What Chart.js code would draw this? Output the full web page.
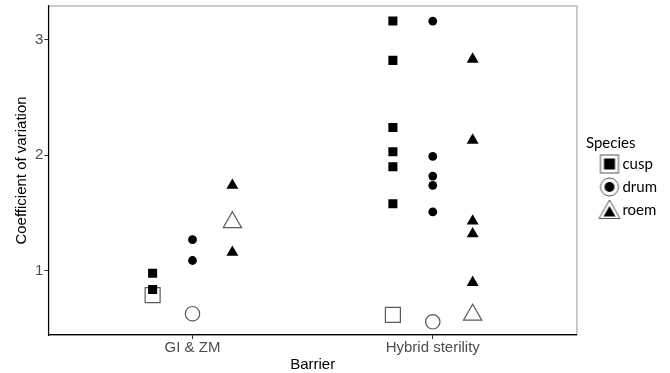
<!DOCTYPE html>
<html lang="en">

<head>
    <meta charset="UTF-8">
    <script src="https://cdn.jsdelivr.net/npm/chart.js"></script>
    <title>Coefficient of variation</title>
    <style>
        body { margin: 0; background: #fff; }
        #wrap { width: 670px; height: 373px; }
    </style>
</head>

<body>
    <div id="wrap"><canvas id="cvChart"></canvas></div>
</body>

</html>

<script>
    // data
    const categories = ['GI & ZM', 'Hybrid sterility']
    const species = ['cusp', 'drum', 'roem']
    const yTicks = [1, 2, 3]

    const cuspGI = [0.98, 0.84]
    const cuspHS = [3.16, 2.82, 2.24, 2.03, 1.90, 1.58]
    const drumGI = [1.27, 1.09]
    const drumHS = [3.16, 1.99, 1.82, 1.74, 1.51]
    const roemGI = [1.74, 1.16]
    const roemHS = [2.83, 2.13, 1.43, 1.32, 0.90]

    // open symbols, one per barrier
    const cuspOpen = [0.79, 0.62]
    const drumOpen = [0.63, 0.56]
    const roemOpen = [1.42, 0.62]

    const dodge = [-0.166, 0, 0.166]
    const shapes = ['rect', 'circle', 'triangle']
    const filledRadius = [6.4, 4.4, 6.9]
    const openRadius = [10.6, 7.2, 10.6]

    const filledSeries = [[cuspGI, cuspHS], [drumGI, drumHS], [roemGI, roemHS]]
    const openSeries = [cuspOpen, drumOpen, roemOpen]

    const axisFont = { family: "'Liberation Sans', Arial, sans-serif", size: 15, lineHeight: 1 }
    const legendFont = { family: 'Lato', size: 15, lineHeight: 1 }

    function pontos(porBarreira, s) {
        const out = []
        porBarreira.forEach((vals, b) => {
            vals.forEach(v => out.push({ x: b + 1 + dodge[s], y: v }))
        })
        return out
    }

    const datasets = []
    species.forEach((nome, s) => {
        datasets.push({
            label: nome,
            data: pontos(filledSeries[s], s),
            pointStyle: shapes[s],
            pointRadius: filledRadius[s],
            pointHoverRadius: filledRadius[s],
            pointBackgroundColor: '#000',
            pointBorderColor: '#000',
            pointBorderWidth: 0
        })
    })
    species.forEach((nome, s) => {
        datasets.push({
            label: nome + ' open',
            data: openSeries[s].map((v, b) => ({ x: b + 1 + dodge[s], y: v })),
            pointStyle: shapes[s],
            pointRadius: openRadius[s],
            pointHoverRadius: openRadius[s],
            pointBackgroundColor: 'rgba(0,0,0,0)',
            pointBorderColor: '#5a5a5a',
            pointBorderWidth: 1.2
        })
    })

    // legend key: outlined shape with the filled one inside
    function legendIcon(s) {
        const c = document.createElement('canvas')
        c.width = 34
        c.height = 22
        const ctx = c.getContext('2d')
        const cx = 22, cy = 11
        ctx.strokeStyle = '#555'
        ctx.lineWidth = 1
        ctx.fillStyle = '#000'
        if (s === 0) {
            ctx.strokeRect(cx - 9, cy - 9, 18, 18)
            ctx.fillRect(cx - 5.5, cy - 5.5, 11, 11)
        } else if (s === 1) {
            ctx.beginPath(); ctx.arc(cx, cy, 9, 0, Math.PI * 2); ctx.stroke()
            ctx.beginPath(); ctx.arc(cx, cy, 5, 0, Math.PI * 2); ctx.fill()
        } else {
            ctx.beginPath()
            ctx.moveTo(cx, cy - 10); ctx.lineTo(cx + 10.5, cy + 8.5); ctx.lineTo(cx - 10.5, cy + 8.5); ctx.closePath()
            ctx.stroke()
            ctx.beginPath()
            ctx.moveTo(cx, cy - 4); ctx.lineTo(cx + 6, cy + 6.5); ctx.lineTo(cx - 6, cy + 6.5); ctx.closePath()
            ctx.fill()
        }
        return c
    }
    const icons = species.map((n, s) => legendIcon(s))

    // grey panel border, the axes draw the black left/bottom lines over it
    const panelBorder = {
        id: 'panelBorder',
        beforeDraw(chart) {
            const a = chart.chartArea
            const ctx = chart.ctx
            ctx.save()
            ctx.strokeStyle = '#9a9a9a'
            ctx.lineWidth = 1
            ctx.strokeRect(a.left, a.top, a.right - a.left, a.bottom - a.top)
            ctx.restore()
        }
    }

    new Chart(cvChart, {
        type: 'scatter',
        data: { datasets: datasets },
        plugins: [panelBorder],
        options: {
            responsive: true,
            maintainAspectRatio: false,
            animation: false,
            layout: { autoPadding: false, padding: { top: 6, right: 3, bottom: 1, left: 14 } },
            plugins: {
                tooltip: { enabled: false },
                legend: {
                    position: 'right',
                    align: 'start',
                    title: {
                        display: true,
                        text: 'Species',
                        position: 'start',
                        color: '#000',
                        font: legendFont,
                        padding: { top: 129.5, bottom: -2 }
                    },
                    labels: {
                        usePointStyle: true,
                        pointStyleWidth: 21,
                        padding: 8,
                        color: '#000',
                        font: legendFont,
                        generateLabels: () => species.map((nome, s) => ({
                            text: nome,
                            pointStyle: icons[s],
                            fillStyle: '#000',
                            strokeStyle: '#000',
                            lineWidth: 0,
                            hidden: false,
                            datasetIndex: s
                        }))
                    },
                    onClick: () => {}
                }
            },
            scales: {
                x: {
                    type: 'linear',
                    min: 0.4,
                    max: 2.6,
                    afterBuildTicks: axis => { axis.ticks = categories.map((c, i) => ({ value: i + 1 })) },
                    afterFit: axis => { axis.paddingLeft = 0; axis.paddingRight = 0 },
                    ticks: {
                        callback: v => categories[Math.round(v) - 1],
                        color: '#4d4d4d',
                        font: axisFont,
                        padding: 1,
                        maxRotation: 0
                    },
                    grid: { drawOnChartArea: false, drawTicks: true, tickLength: 4, color: '#333' },
                    border: { color: '#000', width: 1.2 },
                    title: {
                        display: true,
                        text: 'Barrier',
                        color: '#000',
                        font: axisFont,
                        padding: { top: 1, bottom: 0 }
                    }
                },
                y: {
                    min: 0.446,
                    max: 3.29,
                    afterBuildTicks: axis => { axis.ticks = yTicks.map(v => ({ value: v })) },
                    afterFit: axis => { axis.paddingTop = 0; axis.paddingBottom = 0 },
                    ticks: {
                        color: '#4d4d4d',
                        font: axisFont,
                        padding: 1
                    },
                    grid: { drawOnChartArea: false, drawTicks: true, tickLength: 4, color: '#333' },
                    border: { color: '#000', width: 1.2 },
                    title: {
                        display: true,
                        text: 'Coefficient of variation',
                        color: '#000',
                        font: axisFont,
                        padding: { top: 0, bottom: 5 }
                    }
                },
                // empty strip between the panel and the legend
                gap: {
                    type: 'linear',
                    position: 'right',
                    display: true,
                    ticks: { display: false },
                    grid: { display: false },
                    border: { display: false },
                    afterFit: axis => { axis.width = 9; axis.paddingTop = 0; axis.paddingBottom = 0 }
                }
            }
        }
    });
</script>
